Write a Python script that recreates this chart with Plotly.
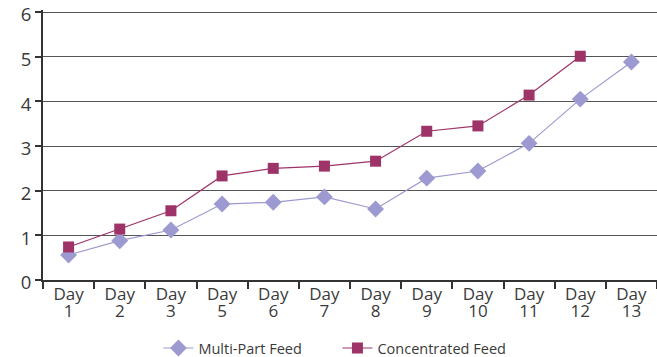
import plotly.graph_objects as go

days = ["Day 1", "Day 2", "Day 3", "Day 5", "Day 6", "Day 7",
        "Day 8", "Day 9", "Day 10", "Day 11", "Day 12", "Day 13"]
multi_part = [0.56, 0.88, 1.12, 1.70, 1.74, 1.86, 1.59, 2.28, 2.44, 3.06, 4.05, 4.88]
concentrated = [0.74, 1.14, 1.55, 2.33, 2.50, 2.55, 2.66, 3.33, 3.45, 4.14, 5.01, None]
y_ticks = [0, 1, 2, 3, 4, 5, 6]

# two-line category labels with tight line spacing: a small base font sets the
# line pitch, the spans carry the visible size
span = "<span style='font-size:17px'>{}</span>"
tick_text = [span.format(d.split()[0]) + "<br>" + span.format(d.split()[1]) for d in days]

fig = go.Figure()
fig.add_trace(go.Scatter(
    x=days, y=multi_part, name="Multi-Part Feed", mode="lines+markers",
    line=dict(color="#9c9ad0", width=1.2),
    marker=dict(symbol="diamond", size=13, color="#9c9ad0"),
))
fig.add_trace(go.Scatter(
    x=days, y=concentrated, name="Concentrated Feed", mode="lines+markers",
    line=dict(color="#9e3368", width=1.2),
    marker=dict(symbol="square", size=11, color="#9e3368"),
))

fig.update_layout(
    width=657, height=357,
    margin=dict(l=43, r=0, t=10, b=77),
    paper_bgcolor="white", plot_bgcolor="white",
    font=dict(family="Open Sans", color="#3a3a3a"),
    showlegend=True,
    legend=dict(orientation="h", x=0.188, xanchor="left",
                yref="container", y=0.025, yanchor="middle",
                font=dict(size=14.5, color="#3a3a3a"), bgcolor="rgba(0,0,0,0)",
                entrywidth=134, tracegroupgap=0),
    xaxis=dict(
        type="category", tickson="boundaries", ticks="outside", ticklen=7,
        tickmode="array", tickvals=days, ticktext=tick_text, ticklabelstandoff=3,
        tickcolor="#333", tickwidth=1.5, showline=True, linecolor="#333", linewidth=2,
        showgrid=False, tickfont=dict(size=12.8, color="#3a3a3a"),
        range=[-0.5, 11.5], automargin=False,
    ),
    yaxis=dict(
        range=[0, 6.045], tickvals=y_ticks, ticks="outside", ticklen=6,
        tickcolor="#333", tickwidth=1.5, ticklabeloverflow="allow",
        ticklabelshift=3,
        showline=True, linecolor="#333", linewidth=2,
        showgrid=True, gridcolor="#555", gridwidth=1.3, zeroline=False,
        tickfont=dict(size=18.5, color="#3a3a3a"), automargin=False,
    ),
)

fig.write_html("out.html")
